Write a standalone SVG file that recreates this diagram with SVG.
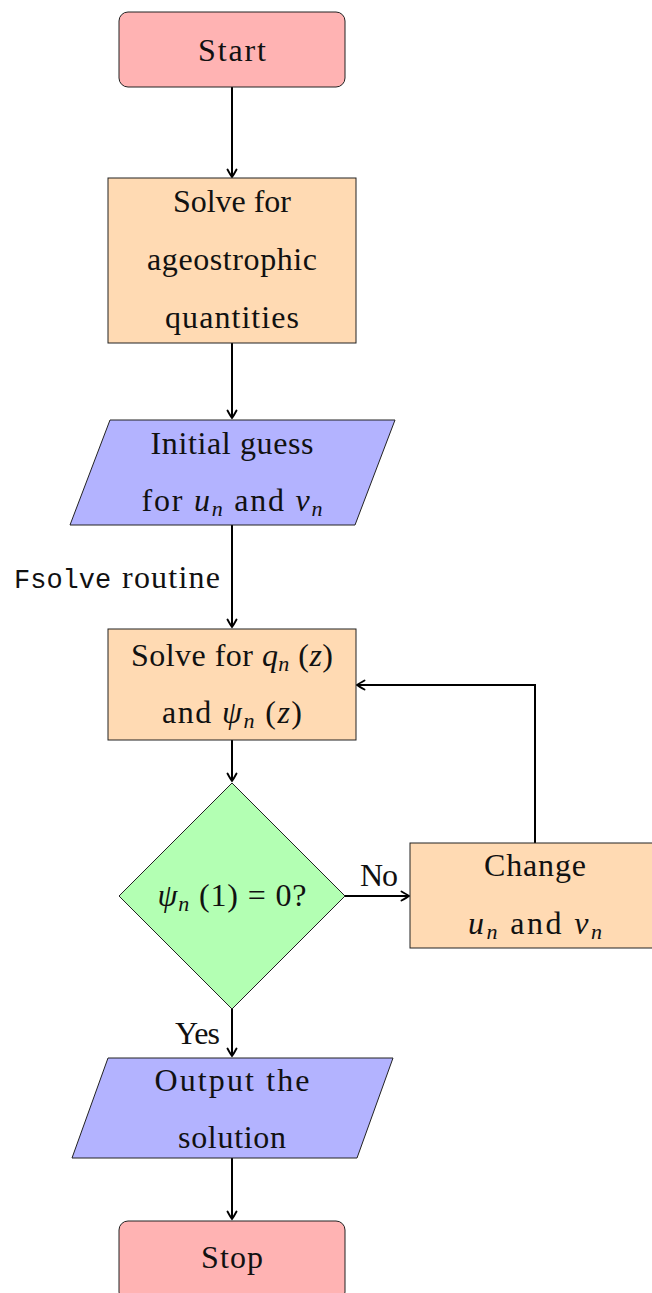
<svg xmlns="http://www.w3.org/2000/svg" width="652" height="1293" viewBox="0 0 652 1293">
<defs>
<marker id="arr" markerWidth="12" markerHeight="12" refX="10" refY="6" orient="auto" markerUnits="userSpaceOnUse">
<path d="M2.5,1.5 Q8,4.5 10,6 Q8,7.5 2.5,10.5" fill="none" stroke="#000" stroke-width="1.9" stroke-linecap="round"/>
</marker>
<style>
text{font-family:"Liberation Serif","Times New Roman",serif;font-size:32px;fill:#111;text-anchor:middle}
.m{font-style:italic}
.s{font-size:22px;font-style:italic}
.tt{font-family:"Liberation Mono","Courier New",monospace;font-size:27px}
.term{fill:#ffb3b3;stroke:#222;stroke-width:1}
.proc{fill:#ffdab3;stroke:#222;stroke-width:1}
.io{fill:#b3b3ff;stroke:#222;stroke-width:1}
.dec{fill:#b3ffb3;stroke:#222;stroke-width:1}
.c{fill:none;stroke:#000;stroke-width:2;marker-end:url(#arr)}
.lbl{text-anchor:start}
</style>
</defs>
<g id="connectors">
<path class="c" d="M232,87 V177"/>
<path class="c" d="M232,343 V418"/>
<path class="c" d="M232,525 V627"/>
<path class="c" d="M232,740 V781"/>
<path class="c" d="M345,896 H409"/>
<path class="c" d="M535,843 V685 H357"/>
<path class="c" d="M232,1009 V1056"/>
<path class="c" d="M232,1158 V1219"/>
<text x="14" y="588" class="lbl"><tspan class="tt">Fsolve</tspan><tspan x="122" textLength="98">routine</tspan></text>
<text x="360" y="886" class="lbl" textLength="38">No</text>
<text x="175" y="1044" class="lbl" textLength="45">Yes</text>
</g>
<g id="start">
<rect class="term" x="119" y="12" width="226" height="75" rx="9"/>
<text x="232" y="61" textLength="68">Start</text>
</g>
<g id="ageo">
<rect class="proc" x="108" y="178" width="248" height="165"/>
<text x="232" y="212" textLength="118">Solve for</text>
<text x="232" y="270" textLength="170">ageostrophic</text>
<text x="232" y="328" textLength="134">quantities</text>
</g>
<g id="guess">
<polygon class="io" points="110,420 395,420 355,525 70,525"/>
<text x="232" y="454" textLength="163">Initial guess</text>
<text x="232" y="511" textLength="181">for <tspan class="m">u</tspan><tspan class="s" dy="5">n</tspan><tspan dy="-5"> and </tspan><tspan class="m">v</tspan><tspan class="s" dy="5">n</tspan></text>
</g>
<g id="solveq">
<rect class="proc" x="108" y="629" width="248" height="111"/>
<text x="232" y="666" textLength="202">Solve for <tspan class="m">q</tspan><tspan class="s" dy="5">n</tspan><tspan dy="-5"> (</tspan><tspan class="m">z</tspan>)</text>
<text x="232" y="723" textLength="140">and <tspan class="m">ψ</tspan><tspan class="s" dy="5">n</tspan><tspan dy="-5"> (</tspan><tspan class="m">z</tspan>)</text>
</g>
<g id="check">
<polygon class="dec" points="232,783 345,896 232,1009 119,896"/>
<text x="232" y="906" textLength="149"><tspan class="m">ψ</tspan><tspan class="s" dy="5">n</tspan><tspan dy="-5"> (1) = 0?</tspan></text>
</g>
<g id="change">
<rect class="proc" x="410" y="843" width="260" height="105"/>
<text x="535" y="876" textLength="102">Change</text>
<text x="535" y="934" textLength="134"><tspan class="m">u</tspan><tspan class="s" dy="5">n</tspan><tspan dy="-5"> and </tspan><tspan class="m">v</tspan><tspan class="s" dy="5">n</tspan></text>
</g>
<g id="output">
<polygon class="io" points="108,1058 393,1058 357,1158 72,1158"/>
<text x="232" y="1091" textLength="155">Output the</text>
<text x="232" y="1148" textLength="108">solution</text>
</g>
<g id="stop">
<rect class="term" x="119" y="1221" width="226" height="80" rx="9"/>
<text x="232" y="1268" textLength="62">Stop</text>
</g>
</svg>
